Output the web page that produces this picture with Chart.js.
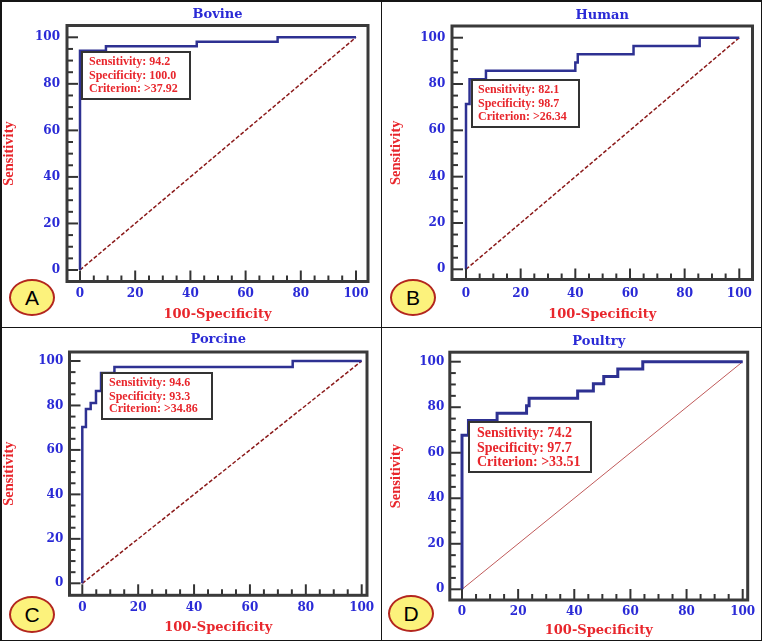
<!DOCTYPE html>
<html><head><meta charset="utf-8">
<script src="https://cdn.jsdelivr.net/npm/chart.js@4"></script>
<style>
html,body{margin:0;padding:0;background:#fff;}
#wrap{position:relative;width:762px;height:641px;overflow:hidden;background:#fff;}
canvas{position:absolute;}
.rule{position:absolute;background:#151515;}
.badge{position:absolute;box-sizing:border-box;border:2px solid #b3261e;border-radius:50%;background:#fcf27c;font:21px "Liberation Sans",Arial,sans-serif;color:#000;text-align:center;}
</style></head><body>
<div id="wrap"></div>
<script>
// ---- data ----
const xTicks = [0, 20, 40, 60, 80, 100];
const yTicks = [0, 20, 40, 60, 80, 100];
const diagonal = [0, 100];
const panelTitles = ['Bovine', 'Human', 'Porcine', 'Poultry'];
const panelLetters = ['A', 'B', 'C', 'D'];
const sensitivityAtCut = ['94.2', '82.1', '94.6', '74.2'];
const specificityAtCut = ['100.0', '98.7', '93.3', '97.7'];
const criterionAtCut = ['>37.92', '>26.34', '>34.86', '>33.51'];

const bovineFpr  = [0, 0, 9.4, 9.4, 42.3, 42.3, 71.6, 71.6, 100];
const bovineSens = [0, 94.2, 94.2, 96.2, 96.2, 98.1, 98.1, 100, 100];

const humanFpr  = [0, 0, 1.3, 1.3, 7.3, 7.3, 40, 40, 40.9, 40.9, 61.3, 61.3, 85.5, 85.5, 100];
const humanSens = [0, 71.4, 71.4, 82.1, 82.1, 85.7, 85.7, 89.3, 89.3, 92.9, 92.9, 96.4, 96.4, 100, 100];

const porcineFpr  = [0, 0, 1.3, 1.3, 3.0, 3.0, 4.9, 4.9, 6.7, 6.7, 11.5, 11.5, 75.3, 75.3, 100];
const porcineSens = [0, 70.3, 70.3, 78.4, 78.4, 81.1, 81.1, 86.5, 86.5, 94.6, 94.6, 97.3, 97.3, 100, 100];

const poultryFpr  = [0, 0, 2.3, 2.3, 12.5, 12.5, 23.0, 23.0, 23.9, 23.9, 41.2, 41.2, 46.8, 46.8, 50.5, 50.5, 55.5, 55.5, 64.4, 64.4, 100];
const poultrySens = [0, 67.7, 67.7, 74.2, 74.2, 77.4, 77.4, 80.6, 80.6, 83.9, 83.9, 87.1, 87.1, 90.3, 90.3, 93.5, 93.5, 96.8, 96.8, 100, 100];

const fprSeries = [bovineFpr, humanFpr, porcineFpr, poultryFpr];
const sensSeries = [bovineSens, humanSens, porcineSens, poultrySens];

// ---- layout / style (canvas-local pixels) ----
const layouts = [
  {left:0,top:0,w:381,h:327,L:67,T:25.5,R:368,B:281.5,x0:80,x100:356,y100:37.3,y0:270,titleY:15,xLabY:294,xTitleY:314.5,yTitleX:9,yLabR:60,
   box:[82,52,108,47],lines:[62,76,89],textX:89,boxFont:12,lw:2.5,dash:[4,2],diagColor:'#8b1a1a',diagW:1.5,badge:[32,297]},
  {left:381,top:0,w:381,h:327,L:71,T:26,R:371.5,B:279.5,x0:85,x100:358.3,y100:37.7,y0:269.3,titleY:16,xLabY:294.3,xTitleY:314.5,yTitleX:15,yLabR:64.3,
   box:[91,80,107,47],lines:[90,104,117],textX:97,boxFont:12,lw:2.5,dash:[4,2],diagColor:'#8b1a1a',diagW:1.5,badge:[413,297]},
  {left:0,top:327,w:381,h:314,L:69.5,T:25,R:367,B:268.3,x0:82.3,x100:361.7,y100:34,y0:256.3,titleY:13,xLabY:280.7,xTitleY:300.5,yTitleX:9.3,yLabR:63.3,
   box:[102,46,110,46],lines:[56,70,82],textX:109,boxFont:12,lw:2.5,dash:[4,2],diagColor:'#8b1a1a',diagW:1.5,badge:[32,614]},
  {left:381,top:327,w:381,h:314,L:68.8,T:25.2,R:366.7,B:273,x0:81,x100:361.7,y100:34.7,y0:262.3,titleY:15,xLabY:285,xTitleY:303.8,yTitleX:15,yLabR:63.3,
   box:[88,95,122,50],lines:[106,121,135],textX:96,boxFont:14,lw:3,dash:[],diagColor:'#c05a5a',diagW:1,badge:[411,613]}
];

const BLUE = '#2a2ad6';
const RED = '#e8262c';
const NAVY = '#2e3192';
const wrap = document.getElementById('wrap');

function makeChart(i){
  const c = layouts[i];
  const cv = document.createElement('canvas');
  cv.width = c.w; cv.height = c.h;
  cv.style.left = c.left + 'px'; cv.style.top = c.top + 'px';
  cv.style.width = c.w + 'px'; cv.style.height = c.h + 'px';
  wrap.appendChild(cv);

  const ppx = (c.x100 - c.x0) / 100, ppy = (c.y0 - c.y100) / 100;
  const xmin = -(c.x0 - c.L) / ppx, xmax = 100 + (c.R - c.x100) / ppx;
  const ymin = -(c.B - c.y0) / ppy, ymax = 100 + (c.y100 - c.T) / ppy;

  const framePlugin = {
    id: 'frame' + i,
    afterDatasetsDraw(chart){
      const {ctx, chartArea:a, scales:{x, y}} = chart;
      ctx.save();
      ctx.strokeStyle = '#333';
      ctx.lineWidth = 2;
      for (let v = 0; v <= 100; v += 5){
        const len = (v % 20 === 0) ? 11 : 6;
        const py = y.getPixelForValue(v);
        ctx.beginPath(); ctx.moveTo(a.left, py); ctx.lineTo(a.left + len, py); ctx.stroke();
        const px = x.getPixelForValue(v);
        ctx.beginPath(); ctx.moveTo(px, a.bottom); ctx.lineTo(px, a.bottom - len); ctx.stroke();
      }
      ctx.lineWidth = 3;
      ctx.strokeStyle = '#3a3a3a';
      ctx.strokeRect(a.left, a.top, a.right - a.left, a.bottom - a.top);
      // info box
      const [bx, by, bw, bh] = c.box;
      ctx.fillStyle = '#fff';
      ctx.fillRect(bx, by, bw, bh);
      ctx.lineWidth = 2;
      ctx.strokeStyle = '#333';
      ctx.strokeRect(bx, by, bw, bh);
      ctx.fillStyle = RED;
      ctx.font = 'bold ' + c.boxFont + 'px "Liberation Serif", "Times New Roman", serif';
      ctx.textBaseline = 'middle';
      ctx.textAlign = 'left';
      const texts = ['Sensitivity: ' + sensitivityAtCut[i], 'Specificity: ' + specificityAtCut[i], 'Criterion: ' + criterionAtCut[i]];
      texts.forEach((t, k) => ctx.fillText(t, c.textX, c.lines[k]));
      ctx.restore();
    }
  };

  new Chart(cv, {
    type: 'scatter',
    data: { datasets: [
      { data: fprSeries[i].map((v, k) => ({x: v, y: sensSeries[i][k]})), showLine: true, borderColor: NAVY,
        borderWidth: c.lw, pointRadius: 0, fill: false, order: 1, tension: 0 },
      { data: diagonal.map(v => ({x: v, y: v})), showLine: true, borderColor: c.diagColor, borderWidth: c.diagW,
        borderDash: c.dash, pointRadius: 0, fill: false, order: 2 }
    ]},
    options: {
      responsive: false, animation: false, devicePixelRatio: 1,
      layout: { padding: { left: 0, top: 0, right: c.w - c.R, bottom: 0 } },
      plugins: {
        legend: { display: false }, tooltip: { enabled: false },
        title: { display: true, text: panelTitles[i], color: BLUE, fullSize: false,
          font: { family: '"DejaVu Serif", serif', size: 13, weight: 'bold' },
          padding: { top: c.titleY - 7.8, bottom: Math.max(0, c.T - (c.titleY + 7.8)) } }
      },
      scales: {
        x: { type: 'linear', min: xmin, max: xmax,
          afterBuildTicks: s => { s.ticks = xTicks.map(v => ({value: v})); },
          afterFit: s => { s.height = c.h - c.B; },
          grid: { display: false, drawTicks: false }, border: { display: false },
          ticks: { color: BLUE, autoSkip: false, maxRotation: 0, padding: c.xLabY - c.B - 7.2,
            font: { family: '"DejaVu Serif", serif', size: 12, weight: 'bold' } },
          title: { display: true, text: '100-Specificity', color: RED,
            font: { family: '"DejaVu Serif", serif', size: 13, weight: 'bold' },
            padding: { top: 0, bottom: c.h - c.xTitleY - 7.8 } } },
        y: { type: 'linear', min: ymin, max: ymax,
          afterBuildTicks: s => { s.ticks = yTicks.map(v => ({value: v})); },
          afterFit: s => { s.width = c.L; },
          grid: { display: false, drawTicks: false }, border: { display: false },
          ticks: { color: BLUE, autoSkip: false, padding: c.L - c.yLabR,
            font: { family: '"DejaVu Serif", serif', size: 12, weight: 'bold' } },
          title: { display: true, text: 'Sensitivity', color: RED,
            font: { family: '"Liberation Serif", serif', size: 14.5, weight: 'bold' },
            padding: { top: c.yTitleX - 8.7, bottom: 0 } } }
      }
    },
    plugins: [framePlugin]
  });

  const b = document.createElement('div');
  b.className = 'badge';
  b.textContent = panelLetters[i];
  b.style.left = (c.badge[0] - 23) + 'px';
  b.style.top = (c.badge[1] - 18.5) + 'px';
  b.style.width = '46px'; b.style.height = '37px'; b.style.lineHeight = '33px';
  wrap.appendChild(b);
}

for (let i = 0; i < 4; i++) makeChart(i);

// panel rules
[[0,0,762,1.5],[0,639.5,762,1.5],[0,0,1.5,641],[760.5,0,1.5,641],[380.5,0,1.5,641],[0,326.5,762,1.5]].forEach(r => {
  const d = document.createElement('div');
  d.className = 'rule';
  d.style.left = r[0] + 'px'; d.style.top = r[1] + 'px'; d.style.width = r[2] + 'px'; d.style.height = r[3] + 'px';
  wrap.appendChild(d);
});
</script>
</body></html>
